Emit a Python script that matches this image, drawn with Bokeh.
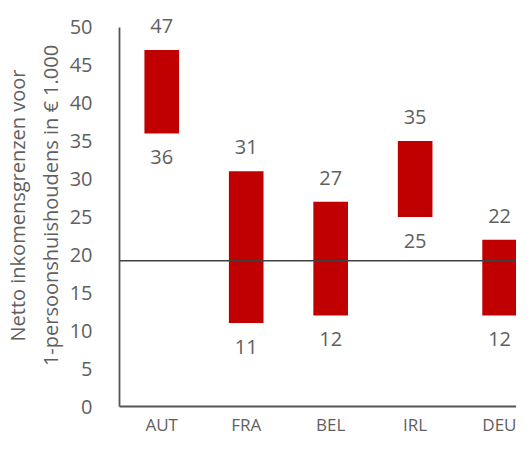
from bokeh.plotting import figure
from bokeh.models import Range1d, FixedTicker, Span, LabelSet, ColumnDataSource
from bokeh.core.properties import value
from bokeh.embed import file_html
from bokeh.resources import INLINE

countries = ["AUT", "FRA", "BEL", "IRL", "DEU"]
low = [36, 11, 12, 25, 12]
high = [47, 31, 27, 35, 22]
reference_line = 19.2
y_ticks = [0, 5, 10, 15, 20, 25, 30, 35, 40, 45, 50]

xpos = [i + 0.5 for i in range(len(countries))]
src = ColumnDataSource(dict(x=xpos, low=low, high=high,
                            low_t=[str(v) for v in low], high_t=[str(v) for v in high]))

FONT = "Open Sans"
GREY = "#5f5f5f"

p = figure(width=516, height=438, output_backend="svg", toolbar_location=None,
           x_range=Range1d(0, 4.70), y_range=Range1d(0, 53),
           min_border_left=119, min_border_right=0, min_border_top=4, min_border_bottom=27)
p.outline_line_color = None
p.xgrid.visible = False
p.ygrid.visible = False

p.vbar(x="x", bottom="low", top="high", width=0.41, source=src,
       fill_color="#C00000", line_color=None)

p.add_layout(Span(location=reference_line, dimension="width", line_color="#404040", line_width=1.5))

top_labels = LabelSet(x="x", y="high", text="high_t", source=src, y_offset=24,
                      text_align="center", text_baseline="middle",
                      text_font=value(FONT), text_font_size=value("20px"), text_color=GREY)
bot_labels = LabelSet(x="x", y="low", text="low_t", source=src, y_offset=-24,
                      text_align="center", text_baseline="middle",
                      text_font=value(FONT), text_font_size=value("20px"), text_color=GREY)
p.add_layout(top_labels)
p.add_layout(bot_labels)

p.yaxis.ticker = FixedTicker(ticks=y_ticks)
p.yaxis.bounds = (0, 50)
p.yaxis.major_tick_line_color = None
p.yaxis.minor_tick_line_color = None
p.yaxis.axis_line_color = "#555555"
p.yaxis.axis_line_width = 1.8
p.yaxis.major_label_text_font = FONT
p.yaxis.major_label_text_font_size = "20px"
p.yaxis.major_label_text_color = GREY
p.yaxis.major_label_standoff = 21
p.yaxis.axis_label = "Netto inkomensgrenzen voor\n1-persoonshuishoudens in \u20ac 1.000"
p.yaxis.axis_label_text_font = FONT
p.yaxis.axis_label_text_font_size = "20px"
p.yaxis.axis_label_text_font_style = "normal"
p.yaxis.axis_label_text_color = GREY
p.yaxis.axis_label_standoff = 3

p.xaxis.ticker = FixedTicker(ticks=xpos)
p.xaxis.major_label_overrides = {x: c for x, c in zip(xpos, countries)}
p.xaxis.major_tick_line_color = None
p.xaxis.minor_tick_line_color = None
p.xaxis.axis_line_color = "#555555"
p.xaxis.axis_line_width = 1.8
p.xaxis.major_label_text_font = FONT
p.xaxis.major_label_text_font_size = "17px"
p.xaxis.major_label_text_color = GREY
p.xaxis.major_label_standoff = 0

open("out.html", "w").write(file_html(p, INLINE))
